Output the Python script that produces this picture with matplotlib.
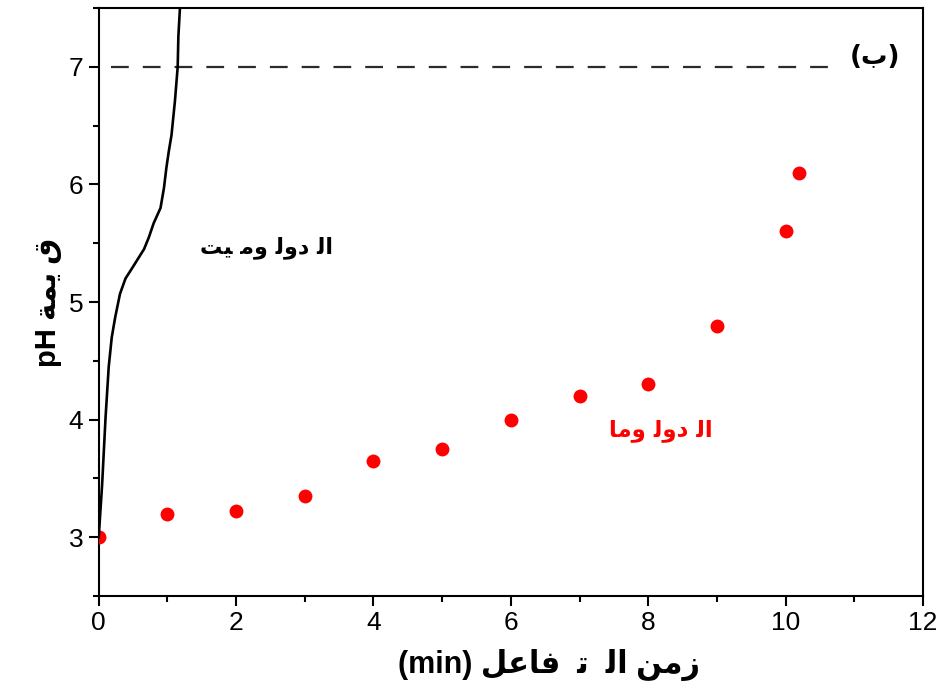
import matplotlib
matplotlib.use('Agg')
import matplotlib.pyplot as plt
from matplotlib.ticker import MultipleLocator

plt.rcParams.update({
    'font.family': ['Liberation Sans', 'DejaVu Sans'],
    'font.size': 17,
    'axes.linewidth': 1.5,
})

# Dolomite curve (black line)
dol_x = [0.0, 0.05, 0.10, 0.146, 0.19, 0.24, 0.31, 0.39, 0.51, 0.66, 0.73,
         0.80, 0.90, 0.95, 0.985, 1.02, 1.06, 1.11, 1.15, 1.16, 1.18, 1.19]
dol_y = [3.0, 3.45, 4.02, 4.45, 4.70, 4.87, 5.07, 5.20, 5.31, 5.45, 5.55,
         5.67, 5.80, 5.97, 6.14, 6.28, 6.42, 6.71, 7.0, 7.26, 7.47, 7.6]

# Dolomitic limestone (red points)
lim_x = [0, 1, 2, 3, 4, 5, 6, 7, 8, 9, 10, 10.2]
lim_y = [3.0, 3.2, 3.22, 3.35, 3.65, 3.75, 4.0, 4.2, 4.3, 4.8, 5.6, 6.1]

neutral_ph = 7.0
neutral_span = [0.18, 10.65]

# Arabic texts, written in visual order (presentation forms)
label_black = 'ﺖﻴ ﻣﻭ ﻟﻭﺩ ﻟﺍ'      # الدولوميت
label_red = 'ﺎﻣﻭ ﻟﻭﺩ ﻟﺍ'           # الدولوما
panel = '(ﺏ)'                      # (ب)
xlabel = '(min) ﻞﻋﺎﻓ  ﺗ  ﻟﺍ ﻦﻣﺯ'   # زمن التفاعل (min)
ylabel = 'pH ﺔﻤﻳ ﻕ'                # قيمة pH

fig = plt.figure(figsize=(9.49, 6.98), dpi=100)
ax = fig.add_axes([0.104, 0.146, 0.8686, 0.8425])

ax.plot(neutral_span, [neutral_ph, neutral_ph], color='#2b2b2b', lw=1.6,
        dashes=(8.0, 6.3))
ax.plot(lim_x, lim_y, 'o', color='#ff0000', ms=10, mec='none', zorder=3)
ax.plot(dol_x, dol_y, color='black', lw=1.9, zorder=4)

ax.text(2.45, 5.46, label_black, ha='center', va='center', fontsize=16,
        fontweight='bold', color='black', family=['DejaVu Sans'])
ax.text(8.18, 3.91, label_red, ha='center', va='center', fontsize=16.5,
        fontweight='bold', color='#ff0000', family=['DejaVu Sans'])
ax.text(11.3, 7.08, panel, ha='center', va='center', fontsize=19,
        fontweight='bold', color='black', family=['DejaVu Sans'])

ax.set_xlim(0, 12)
ax.set_ylim(2.5, 7.5)
ax.xaxis.set_major_locator(MultipleLocator(2))
ax.xaxis.set_minor_locator(MultipleLocator(1))
ax.yaxis.set_major_locator(MultipleLocator(1))
ax.yaxis.set_minor_locator(MultipleLocator(0.5))
ax.tick_params(which='major', direction='out', length=7, width=1.5,
               labelsize=19, pad=4)
ax.tick_params(which='minor', direction='out', length=4, width=1.5)

ax.set_xlabel(xlabel, fontsize=22, fontweight='bold',
              family=['Liberation Sans', 'DejaVu Sans'], labelpad=10)
ax.xaxis.label.set_x(0.546)
ax.set_ylabel(ylabel, fontsize=21, fontweight='bold',
              family=['Liberation Sans', 'DejaVu Sans'], labelpad=5)

fig.savefig('out.png', dpi=100)
plt.close(fig)
